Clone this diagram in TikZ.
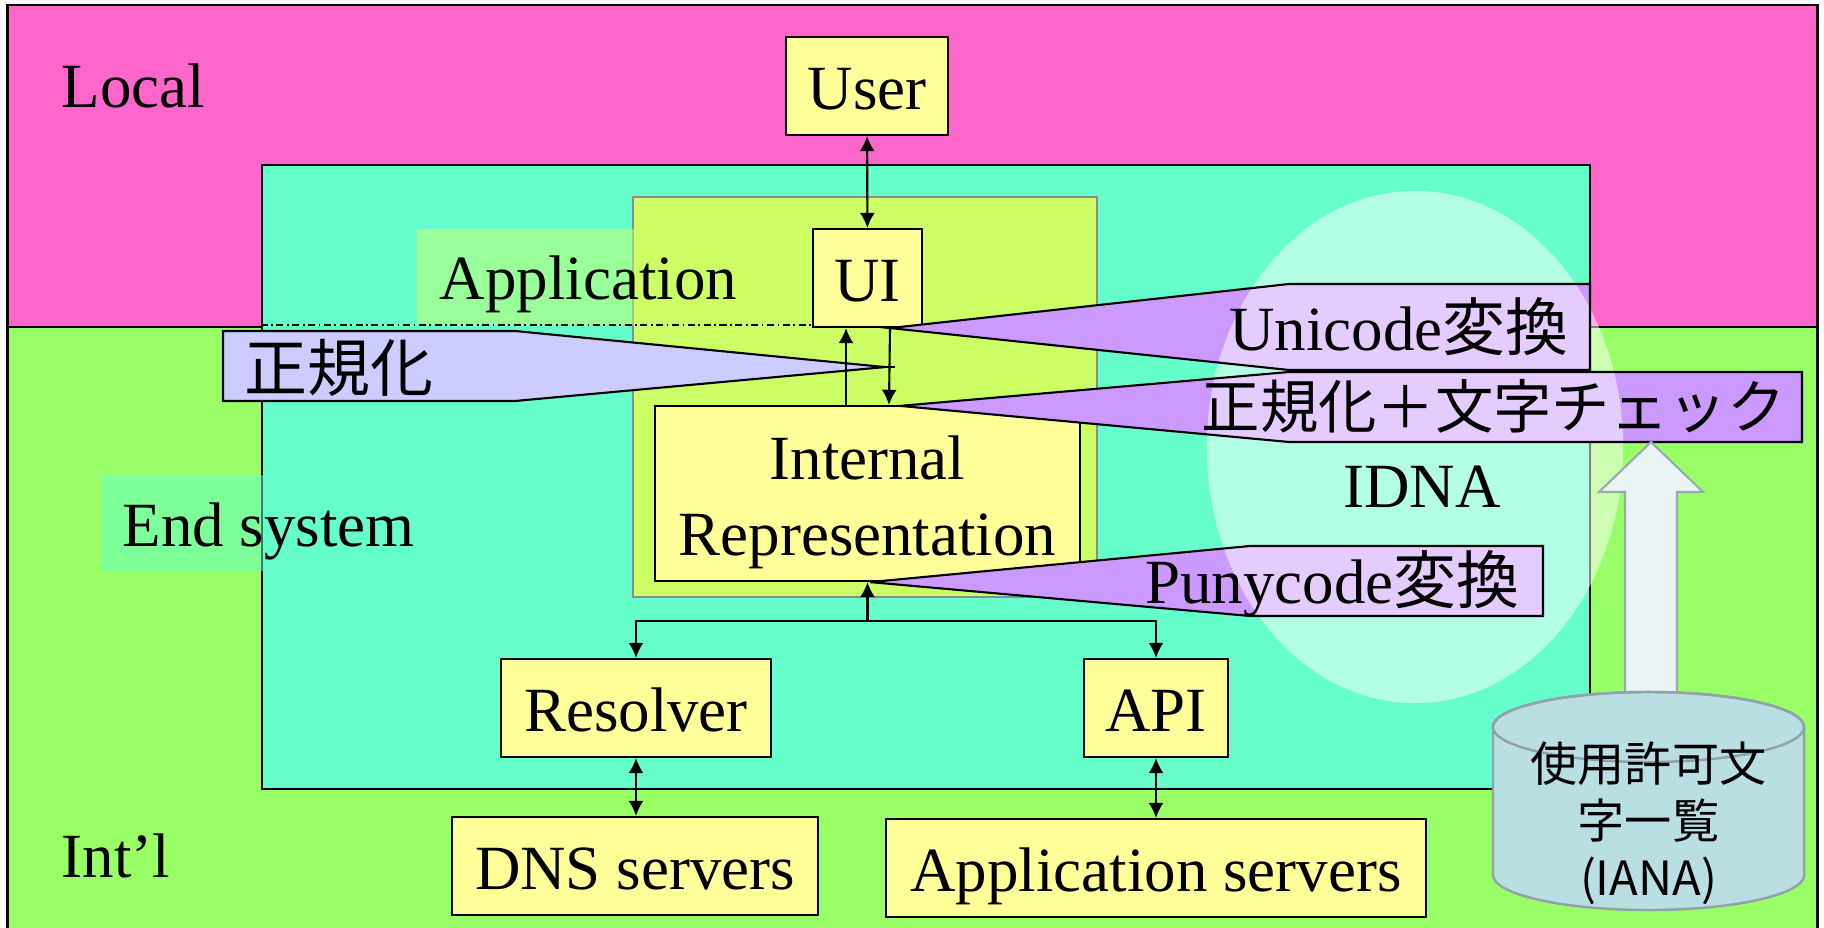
\documentclass[tikz,border=0pt]{standalone}
\usepackage{fontspec}
\setmainfont{Liberation Serif}
\newfontfamily\jpfont{Noto Sans CJK JP}
\usetikzlibrary{arrows.meta, calc}
\definecolor{localpink}{HTML}{FF66CC}
\definecolor{intlgreen}{HTML}{99FF66}
\definecolor{endteal}{HTML}{66FFCC}
\definecolor{appgreen}{HTML}{CCFF66}
\definecolor{boxyellow}{HTML}{FFFF99}
\definecolor{normblue}{HTML}{CCCCFF}
\definecolor{idnapurple}{HTML}{CC99FF}
\definecolor{dbfill}{HTML}{B9DFE3}
\definecolor{dbline}{HTML}{8FA3A8}
\definecolor{feedfill}{HTML}{E9F5F5}
\definecolor{feedline}{HTML}{99AAAE}
\newcommand{\slidefont}{\fontsize{17.9}{21}\selectfont}
\tikzset{
  region/.style={rectangle, draw=black, line width=0.6pt, inner sep=0pt},
  box/.style={rectangle, draw=black, fill=boxyellow, line width=0.6pt,
    minimum height=0.98cm, inner sep=0pt, font=\slidefont,
    text height=16pt, text depth=2.4pt},
  lbl/.style={font=\slidefont, inner sep=0pt},
  callout/.style={draw=black, line width=0.6pt, line join=miter},
  arrow/.style={-{Latex[length=4.3pt,width=4.3pt]}, line width=0.6pt},
  dblarrow/.style={{Latex[length=4.3pt,width=4.3pt]}-{Latex[length=4.3pt,width=4.3pt]}, line width=0.6pt},
}

\begin{document}
\begin{tikzpicture}[x=0.01cm, y=-0.01cm]
\useasboundingbox (0,0) rectangle (1824,928);

% Local / international areas
\node[region, fill=localpink, minimum width=18.09cm, minimum height=3.22cm] (localbg) at (912.5,166) {};
\node[region, fill=intlgreen, minimum width=18.09cm, minimum height=6.08cm] (intlbg) at (912.5,631) {};

% End system and application
\node[region, fill=endteal, minimum width=13.28cm, minimum height=6.24cm] (endsys) at (926,477) {};
\fill[endteal, fill opacity=0.5] (101,475) rectangle (430,571);
\node[region, fill=appgreen, draw=black!45, line width=0.5pt, minimum width=4.64cm, minimum height=4cm] (appbox) at (865,397) {};
\fill[appgreen, fill opacity=0.5] (417,229) rectangle (760,325);

% Boxes
\node[box, minimum width=1.62cm] (user) at (867,86) {User};
\node[box, minimum width=1.09cm] (ui) at (867.5,278) {UI};
\node[box, minimum width=4.25cm, minimum height=1.75cm] (internal) at (867.5,493.5) {};
\node[lbl, align=center, font=\fontsize{17.9}{21.6}\selectfont] (inttxt) at ($(internal.center)+(0,8.5)$) {Internal\\Representation};
\node[box, minimum width=2.70cm] (resolver) at (636,708) {Resolver};
\node[box, minimum width=1.44cm] (api) at (1156,708) {API};
\node[box, minimum width=3.66cm] (dns) at (635,866) {DNS servers};
\node[box, minimum width=5.40cm] (appsrv) at (1156,868) {Application servers};

\draw[line width=0.45pt, dash pattern=on 2pt off 1pt on 0.5pt off 1pt]
  ($(endsys.west |- ui.south west)+(0,-3)$) -- ($(ui.south west)+(0,-3)$);

% Callouts
\coordinate (normtip) at ($(ui.south)+(17.5,39)$);
\coordinate (unitip) at ($(ui.south)+(22.5,0)$);
\coordinate (chktip) at ($(internal.north)+(32.5,1)$);
\coordinate (punytip) at ($(internal.south)+(2.5,0)$);

\filldraw[callout, fill=normblue] (223,331) -- (515,331) -- (normtip) -- (515,401) -- (223,401) -- cycle;
\draw[line width=0.6pt] (normtip) -- ++(10,0);
\fill[idnapurple] (unitip) -- (1289,284) -- (1590,284) -- (1590,370) -- (1289,370) -- cycle;
\fill[idnapurple] (chktip) -- (1289,372) -- (1802,372) -- (1802,442) -- (1289,442) -- cycle;
\fill[idnapurple] (punytip) -- (1250,546) -- (1543,546) -- (1543,616) -- (1250,616) -- cycle;

% Arrows
\draw[dblarrow] (user) -- (ui);
\draw[arrow] ($(internal.north)+(-21.5,0)$) -- ($(ui.south)+(-21.5,0)$);
\draw[arrow] (unitip) -- ($(internal.north)+(21.5,0)$);
\coordinate (split) at ($(internal.south)+(0,39)$);
\draw[arrow] (split) -- (internal.south);
\draw[arrow] (split) -| (resolver.north);
\draw[arrow] (split) -| (api.north);
\draw[dblarrow] (resolver.south) -- (resolver.south |- dns.north);
\draw[dblarrow] (api.south) -- (api.south |- appsrv.north);

% IDNA
\fill[white, fill opacity=0.5] (1415,447) ellipse [x radius=2.08cm, y radius=2.56cm];
\draw[callout] (unitip) -- (1289,284) -- (1590,284) -- (1590,370) -- (1289,370) -- cycle;
\draw[callout] (chktip) -- (1289,372) -- (1802,372) -- (1802,442) -- (1289,442) -- cycle;
\draw[callout] (punytip) -- (1250,546) -- (1543,546) -- (1543,616) -- (1250,616) -- cycle;

% Labels
\node[lbl, anchor=base west] (local) at (61,108) {Local};
\node[lbl, anchor=base west] (intl) at (61,877) {Int’l};
\node[lbl, anchor=base west] (endlbl) at (122,547) {End system};
\node[lbl, anchor=base west] (applbl) at (439,300) {Application};
\node[lbl, anchor=base] (idna) at (1422,508) {IDNA};
\node[lbl, anchor=base west] (normtxt) at (244,392) {\jpfont 正規化};
\node[lbl, anchor=base east] (unitxt) at (1569,351) {Unicode{\jpfont 変換}};
\node[lbl, anchor=base west, font=\jpfont\fontsize{16.6}{20}\selectfont] (chktxt) at (1201,429) {正規化＋文字チェック};
\node[lbl, anchor=base east] (punytxt) at (1520,604) {Punycode{\jpfont 変換}};

% Character table
\filldraw[fill=feedfill, draw=feedline, line width=0.6pt]
  (1651,442) -- (1703,492) -- (1677,492) -- (1677,700) -- (1625,700) -- (1625,492) -- (1599,492) -- cycle;
\filldraw[fill=dbfill, draw=dbline, line width=0.7pt]
  (1493,727) -- (1493,875) arc[start angle=180, end angle=360, x radius=1.555cm, y radius=0.35cm]
  -- (1804,727) arc[start angle=0, end angle=180, x radius=1.555cm, y radius=0.35cm] -- cycle;
\draw[dbline, line width=0.7pt] (1648.5,727) ellipse [x radius=1.555cm, y radius=0.35cm];
\node[inner sep=0pt, align=center, font=\jpfont\fontsize{13.4}{16.2}\selectfont] (iana) at (1648.5,823)
  {使用許可文\\字一覧\\(IANA)};

\end{tikzpicture}
\end{document}
